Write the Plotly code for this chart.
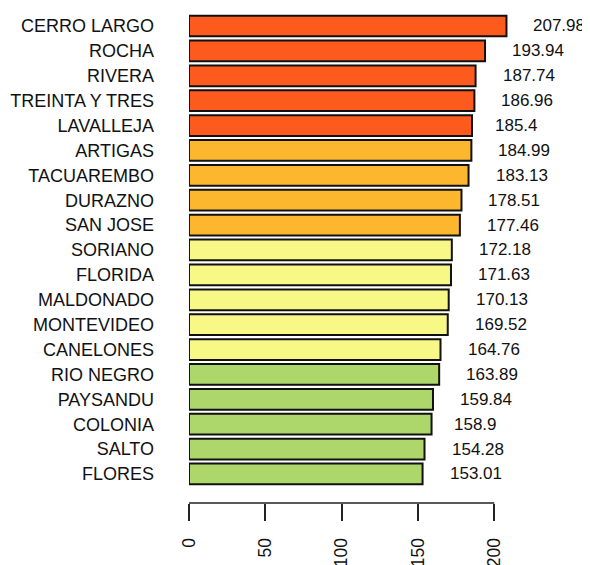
import plotly.graph_objects as go

departments = ["CERRO LARGO", "ROCHA", "RIVERA", "TREINTA Y TRES", "LAVALLEJA",
               "ARTIGAS", "TACUAREMBO", "DURAZNO", "SAN JOSE",
               "SORIANO", "FLORIDA", "MALDONADO", "MONTEVIDEO", "CANELONES",
               "RIO NEGRO", "PAYSANDU", "COLONIA", "SALTO", "FLORES"]
values = [207.98, 193.94, 187.74, 186.96, 185.4,
          184.99, 183.13, 178.51, 177.46,
          172.18, 171.63, 170.13, 169.52, 164.76,
          163.89, 159.84, 158.9, 154.28, 153.01]
value_labels = ["207.98", "193.94", "187.74", "186.96", "185.4",
                "184.99", "183.13", "178.51", "177.46",
                "172.18", "171.63", "170.13", "169.52", "164.76",
                "163.89", "159.84", "158.9", "154.28", "153.01"]
group_colors = ["#FD5B1E"] * 5 + ["#FDB72F"] * 4 + ["#F8F887"] * 5 + ["#AED76B"] * 5
x_ticks = [0, 50, 100, 150, 200]

FONT = "Liberation Sans"

fig = go.Figure()
fig.add_trace(go.Bar(
    x=values, y=departments, orientation="h",
    marker=dict(color=group_colors, line=dict(color="#111111", width=2)),
    hoverinfo="x+y",
))

for d, v, lab in zip(departments, values, value_labels):
    fig.add_annotation(x=v, y=d, text=lab, showarrow=False, xanchor="left",
                       xshift=4.5 * len(lab) - 2, font=dict(family=FONT, size=17, color="#111111"))

# axis line from 0 to 200 only (base-graphics style)
fig.add_shape(type="line", xref="x", yref="paper", x0=0, x1=200, y0=0, y1=0,
              line=dict(color="#222222", width=1.5))

# page body has an 8px margin, so the figure is 8px smaller than the window
fig.update_layout(
    width=582, height=557,
    margin=dict(l=181, r=0, t=0, b=62, autoexpand=False),
    paper_bgcolor="white", plot_bgcolor="white",
    bargap=0.167, showlegend=False,
    font=dict(family=FONT, size=17, color="#111111"),
)
fig.update_xaxes(range=[0, 262.7], tickvals=x_ticks, ticktext=[str(t) for t in x_ticks],
                 tickangle=-90, ticks="outside", ticklen=17, tickwidth=1.5, tickcolor="#222222",
                 showgrid=False, zeroline=False, showline=False, automargin=False,
                 ticklabelstandoff=10, tickfont=dict(size=17.5))
fig.update_yaxes(type="category", categoryorder="array", categoryarray=departments,
                 range=[19.166, -0.723], showgrid=False, zeroline=False, showline=False,
                 automargin=False, ticks="", ticklabelstandoff=34, tickfont=dict(size=18))

fig.write_html("out.html")
